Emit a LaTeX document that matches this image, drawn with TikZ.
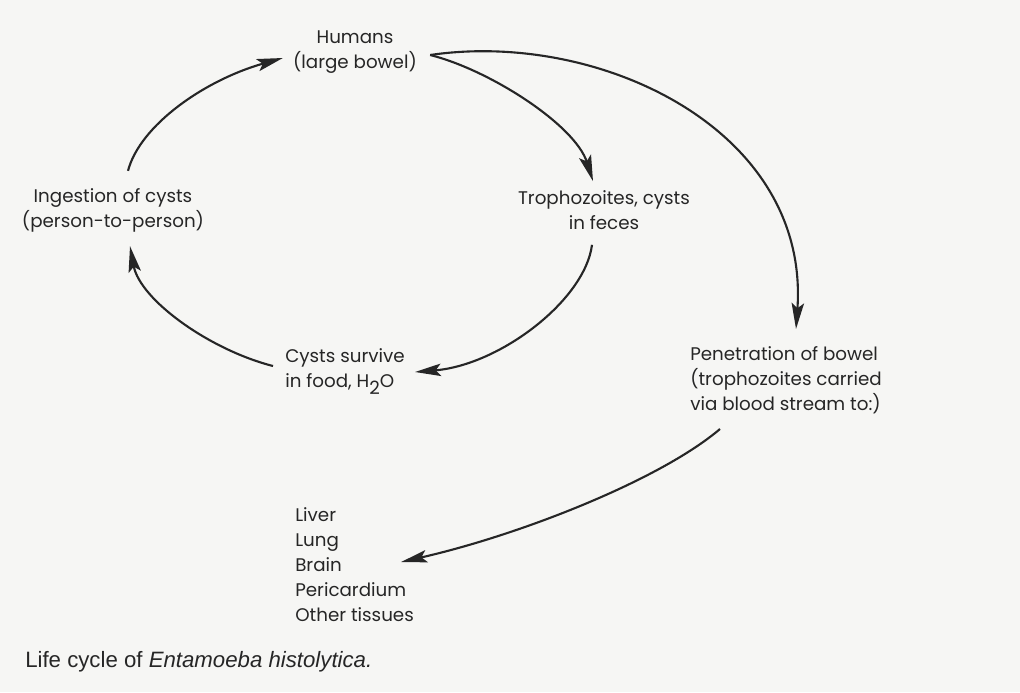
\documentclass[tikz,border=0pt]{standalone}
\usepackage{fontspec}
\setmainfont{Poppins}
\newfontfamily\capfont{Liberation Sans}
\usetikzlibrary{arrows.meta}
\definecolor{paper}{RGB}{246,246,244}
\definecolor{ink}{RGB}{38,38,38}

\begin{document}
\begin{tikzpicture}[x=0.025cm, y=-0.025cm,
		lbl/.style={inner sep=0pt, text=ink, font=\fontsize{13}{17.8}\selectfont},
		arr/.style={ink, line width=1.5pt, -{Stealth[length=6.5mm, width=3.1mm, inset=1.3mm]}}]
		\fill[paper] (0,0) rectangle (1020,692);
		% stages of the cycle
		\node[lbl, align=center] (humans) at (355,52) {Humans\\(large bowel)};
		\node[lbl, align=center] (ingest) at (113,210) {Ingestion of cysts\\(person-to-person)};
		\node[lbl, align=center] (troph) at (604,210) {Trophozoites, cysts\\in feces};
		\node[lbl, align=left, anchor=west] (cysts) at (285,372) {Cysts survive\\in food, H\raisebox{-0.7ex}{2}O};
		\node[lbl, align=left, anchor=west] (pen) at (690,380) {Penetration of bowel\\(trophozoites carried\\via blood stream to:)};
		\node[lbl, align=left, anchor=west] (liver) at (295,565) {Liver\\Lung\\Brain\\Pericardium\\Other tissues};
		\node[inner sep=0pt, anchor=base west, text=ink, font=\capfont\fontsize{15.8}{18}\selectfont] (caption) at (25,667) {Life cycle of \textit{Entamoeba histolytica.}};
		% arrows
		\draw[arr] ([shift={(15,-17)}]ingest.north) .. controls (140,125) and (205,80) .. ([shift={(-10,6)}]humans.west);
		\draw[arr] ([shift={(13,3)}]humans.east) .. controls (490,70) and (575,125) .. ([shift={(-11,-9)}]troph.north);
		\draw[arr] ([shift={(13,3)}]humans.east) .. controls (600,30) and (810,130) .. ([shift={(10,-17)}]pen.north);
		\draw[arr] ([shift={(-12,15)}]troph.south) .. controls (585,300) and (500,365) .. ([shift={(10,0)}]cysts.east);
		\draw[arr] ([shift={(-12,-6)}]cysts.west) .. controls (210,350) and (140,300) .. ([shift={(17,14)}]ingest.south);
		\draw[arr] ([shift={(30,15)}]pen.south west) .. controls (660,480) and (520,535) .. ([shift={(-13,-3)}]liver.east);
	\end{tikzpicture}
\end{document}
